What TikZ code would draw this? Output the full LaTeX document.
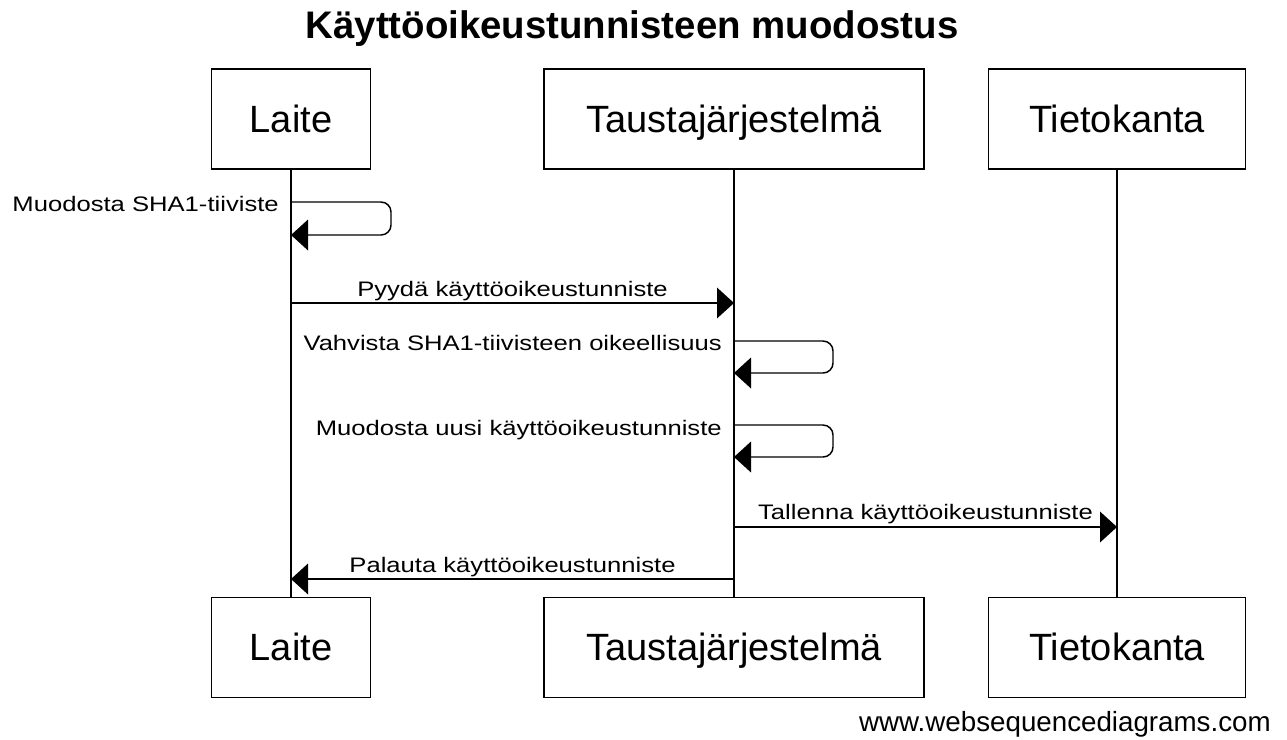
\documentclass[tikz,border=0pt]{standalone}
\usepackage{fontspec}
\setmainfont{Liberation Sans}
\newfontfamily\msgfont[FakeStretch=1.22]{Liberation Sans}
\usetikzlibrary{arrows.meta,calc}
\begin{document}
\begin{tikzpicture}[x=0.75pt,y=-0.75pt,
  actor/.style={draw, line width=1.1pt, minimum width=#1, minimum height=75pt,
    inner sep=0pt, text height=21pt, text depth=1.5pt,
    font=\fontsize{28.5}{34}\selectfont},
  life/.style={line width=1.1pt},
  msg/.style={line width=1.1pt, -{Triangle[length=12.75pt,width=23pt]}},
  selfmsg/.style={msg, rounded corners=7.5pt},
  lbl/.style={font=\msgfont\fontsize{15.75}{18}\selectfont, inner sep=0pt},
  ]
\useasboundingbox (0,0) rectangle (1287,739);

% title
\node[font=\bfseries\fontsize{28.8}{34}\selectfont, anchor=base, inner sep=0pt]
  (title) at (632,38) {Käyttöoikeustunnisteen muodostus};

% participants, top and bottom
\node[actor=119.25pt] (lt) at (291,119) {Laite};
\node[actor=285pt]    (tt) at (734,119) {Taustajärjestelmä};
\node[actor=192.75pt] (dt) at (1117,119) {Tietokanta};
\node[actor=119.25pt] (lb) at (291,647.5) {Laite};
\node[actor=285pt]    (tb) at (734,647.5) {Taustajärjestelmä};
\node[actor=192.75pt] (db) at (1117,647.5) {Tietokanta};

% lifelines
\draw[life] (lt.south) -- (lb.north);
\draw[life] (tt.south) -- (tb.north);
\draw[life] (dt.south) -- (db.north);

% message rows
\coordinate (m1)  at (0,202);
\coordinate (m1r) at (0,235);
\coordinate (m2)  at (0,303);
\coordinate (m3)  at (0,341);
\coordinate (m3r) at (0,373);
\coordinate (m4)  at (0,425);
\coordinate (m4r) at (0,457);
\coordinate (m5)  at (0,527);
\coordinate (m6)  at (0,579);

% Laite: hash
\draw[selfmsg] (lt.south |- m1) -- ++(100,0) -- ++(0,33) -- (lt.south |- m1r);
\node[lbl, anchor=base east] (l1) at ($(lt.south |- m1)+(-12,9.5)$) {Muodosta SHA1-tiiviste};

% request
\draw[msg] (lt.south |- m2) -- (tt.south |- m2)
  node[lbl, pos=0.5, anchor=base, yshift=5pt] (l2) {Pyydä käyttöoikeustunniste};

% backend: verify
\draw[selfmsg] (tt.south |- m3) -- ++(99,0) -- ++(0,32) -- (tt.south |- m3r);
\node[lbl, anchor=base east] (l3) at ($(tt.south |- m3)+(-12,9.5)$) {Vahvista SHA1-tiivisteen oikeellisuus};

% backend: new token
\draw[selfmsg] (tt.south |- m4) -- ++(99,0) -- ++(0,32) -- (tt.south |- m4r);
\node[lbl, anchor=base east] (l4) at ($(tt.south |- m4)+(-12,10)$) {Muodosta uusi käyttöoikeustunniste};

% store
\draw[msg] (tt.south |- m5) -- (dt.south |- m5)
  node[lbl, pos=0.5, anchor=base, yshift=6pt] (l5) {Tallenna käyttöoikeustunniste};

% return
\draw[msg] (tt.south |- m6) -- (lt.south |- m6)
  node[lbl, pos=0.5, anchor=base, yshift=5.25pt] (l6) {Palauta käyttöoikeustunniste};

% footer
\node[font=\fontsize{20.8}{24}\selectfont, anchor=base east, inner sep=0pt]
  (site) at (1271,731) {www.websequencediagrams.com};
\end{tikzpicture}
\end{document}
